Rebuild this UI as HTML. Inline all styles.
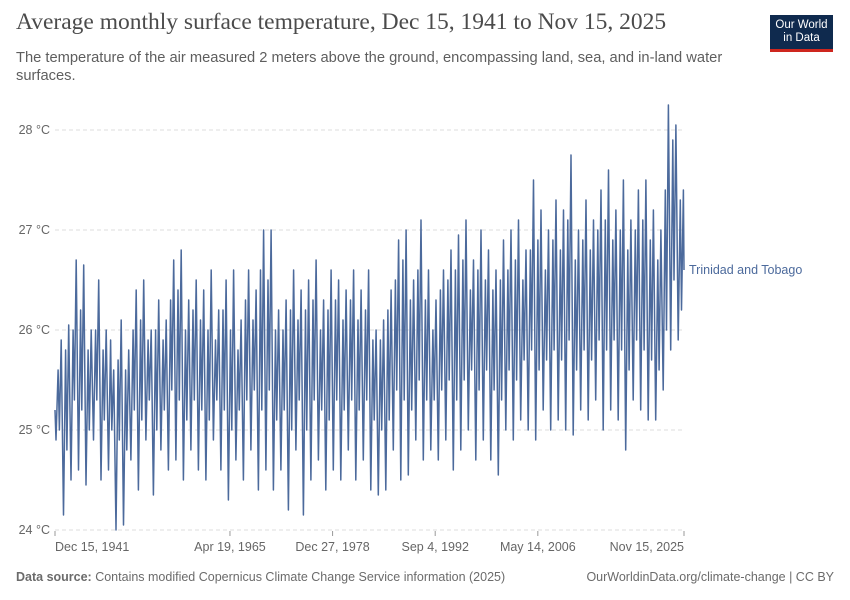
<!DOCTYPE html>
<html><head><meta charset="utf-8">
<style>
body{margin:0;background:#fff;font-family:"Liberation Sans",sans-serif;}
#wrap{position:relative;width:850px;height:600px;overflow:hidden;}
.title{position:absolute;left:16px;top:9px;font-family:"Liberation Serif",serif;font-size:23.5px;color:#4b4b4b;}
.sub{position:absolute;left:16px;top:49px;width:730px;font-size:14.7px;line-height:18px;color:#5e5e5e;}
.logo{position:absolute;left:770px;top:15px;width:63px;height:37px;background:#0f2a4e;border-bottom:3px solid #ce261e;color:#fff;font-size:11.5px;line-height:13px;text-align:center;padding-top:4px;box-sizing:border-box;}
.foot{position:absolute;top:570px;font-size:12.5px;color:#6b6b6b;}
</style></head><body>
<div id="wrap">
<div class="title">Average monthly surface temperature, Dec 15, 1941 to Nov 15, 2025</div>
<div class="sub">The temperature of the air measured 2 meters above the ground, encompassing land, sea, and in-land water surfaces.</div>
<div class="logo">Our World<br>in Data</div>
<svg id="chart" width="850" height="600" style="position:absolute;left:0;top:0"></svg>
<div class="foot" style="left:16px"><b>Data source:</b> Contains modified Copernicus Climate Change Service information (2025)</div>
<div class="foot" style="right:16px">OurWorldinData.org/climate-change | CC BY</div>
</div>
<script>
const startYear = 1942;
const febLow = [24.9,24.15,24.5,24.6,24.45,24.9,24.5,24.6,24.0,24.05,
24.7,24.4,24.9,24.35,24.8,24.6,24.7,24.5,24.8,24.6,
24.5,24.9,24.6,24.3,24.7,24.5,24.8,24.4,24.6,24.4,
24.6,24.2,24.8,24.15,24.5,24.7,24.4,24.6,24.5,24.8,
24.5,24.7,24.4,24.35,24.4,24.8,24.5,24.55,24.9,24.7,
24.8,24.7,24.9,24.6,24.8,25.0,24.7,24.9,24.7,24.55,
25.0,24.9,25.1,25.0,24.9,25.2,25.0,25.1,25.0,24.95,
25.2,25.1,25.3,25.0,25.2,25.1,24.8,25.3,25.2,25.1,
25.1,25.4,25.8,25.9];
const mayPeak = [25.6,25.8,26.0,26.2,25.8,26.0,25.8,25.9,25.7,25.6,
26.0,26.1,25.9,26.0,25.9,26.3,26.4,26.0,26.2,26.1,
26.0,25.9,26.2,26.0,25.8,26.3,26.1,26.6,26.5,26.0,
26.0,26.2,26.1,26.2,26.3,26.0,26.2,26.3,26.1,26.3,
26.1,26.2,25.9,25.9,26.2,26.5,26.7,26.3,26.6,26.3,
26.0,26.4,26.5,26.6,26.7,26.4,26.6,26.5,26.4,26.5,
26.6,26.7,26.5,26.8,26.9,26.6,26.9,26.8,27.1,26.7,
26.9,26.8,27.0,27.1,26.9,27.0,26.8,27.0,27.1,26.9,
26.7,27.4,27.9,27.3];
const julDip = [25.0,24.8,25.3,25.2,25.0,25.3,25.1,25.0,24.9,24.8,
25.2,25.1,25.3,25.0,25.2,25.4,25.3,25.1,25.3,25.2,
25.1,25.3,25.2,25.0,25.2,25.3,25.4,25.2,25.4,25.1,
25.2,25.0,25.3,25.0,25.3,25.2,25.1,25.3,25.2,25.3,
25.2,25.3,25.1,25.0,25.1,25.4,25.3,25.2,25.5,25.3,
25.3,25.4,25.5,25.3,25.5,25.6,25.4,25.6,25.4,25.3,
25.6,25.5,25.7,25.8,25.6,25.7,25.8,25.7,25.9,25.6,
25.8,25.7,25.9,25.8,25.9,25.8,25.6,25.9,25.8,25.7,
25.6,26.0,26.5,26.2];
const octPeak = [25.9,26.05,26.7,26.65,26.0,26.5,26.0,25.6,26.1,25.8,
26.4,26.5,26.0,26.3,26.1,26.7,26.8,26.3,26.5,26.4,
26.6,26.2,26.5,26.6,26.1,26.6,26.4,27.0,27.0,26.2,
26.3,26.6,26.4,26.5,26.7,26.3,26.6,26.5,26.4,26.6,
26.4,26.6,26.0,26.1,26.4,26.9,27.0,26.5,27.1,26.6,
26.3,26.6,26.8,26.95,27.1,26.7,27.0,26.8,26.6,26.9,
27.0,27.1,26.8,27.5,27.2,27.0,27.3,27.2,27.75,27.0,
27.3,27.1,27.4,27.6,27.2,27.5,27.1,27.4,27.5,27.2,
27.0,28.25,28.05,27.4];
const firstValue = 25.2;
const lastValue = 26.6;
const yTicks = [24,25,26,27,28];
const xTickYears = [1941.96,1965.3,1978.99,1992.68,2006.37,2025.87];
const xTickLabels = ["Dec 15, 1941","Apr 19, 1965","Dec 27, 1978","Sep 4, 1992","May 14, 2006","Nov 15, 2025"];

const svg = document.getElementById('chart');
const NS = 'http://www.w3.org/2000/svg';
const x0=55,x1=684,t0=1941.96,t1=2025.87;
const X = t => x0 + (t - t0) / (t1 - t0) * (x1 - x0);
const Y = v => 530 - (v - 24) * 100;
function mk(tag, attrs){const e=document.createElementNS(NS,tag);for(const k in attrs)e.setAttribute(k,attrs[k]);svg.appendChild(e);return e;}

yTicks.forEach(v=>{
  const g = mk('line',{x1:x0,x2:x1,y1:Y(v),y2:Y(v),stroke:'#dddddd','stroke-dasharray':'4,3'});
  
  
  const t = mk('text',{x:50,y:Y(v)+4,'text-anchor':'end','font-size':'12.5','fill':'#666','font-family':'Liberation Sans, sans-serif'});
  t.textContent = v + ' °C';
  
  
});
xTickYears.forEach((yr,i)=>{
  const tk = mk('line',{x1:X(yr),x2:X(yr),y1:531,y2:536,stroke:'#999'});
  
  
  let anchor = i===0 ? 'start' : (i===xTickYears.length-1 ? 'end' : 'middle');
  const t = mk('text',{x:X(yr),y:551,'text-anchor':anchor,'font-size':'12.5','fill':'#666','font-family':'Liberation Sans, sans-serif'});
  t.textContent = xTickLabels[i];
  
  
});

const pts = [[t0, firstValue]];
for (let i=0;i<febLow.length;i++){
  const yr = startYear + i;
  pts.push([yr+1.1/12, febLow[i]]);
  pts.push([yr+4.5/12, mayPeak[i]]);
  pts.push([yr+6.5/12, julDip[i]]);
  if (yr+9.5/12 < t1) pts.push([yr+9.5/12, octPeak[i]]);
}
pts.push([t1, lastValue]);
const d = pts.map((p,i)=>(i?'L':'M')+X(p[0]).toFixed(1)+','+Y(p[1]).toFixed(1)).join('');
const line = mk('path',{d:d,fill:'none',stroke:'#4c6a9c','stroke-width':'1.5','stroke-linejoin':'round'});


const lab = mk('text',{x:689,y:Y(lastValue)+4,'font-size':'12.5','fill':'#4c6a9c','font-family':'Liberation Sans, sans-serif'});
lab.textContent = 'Trinidad and Tobago';


</script>
</body></html>
